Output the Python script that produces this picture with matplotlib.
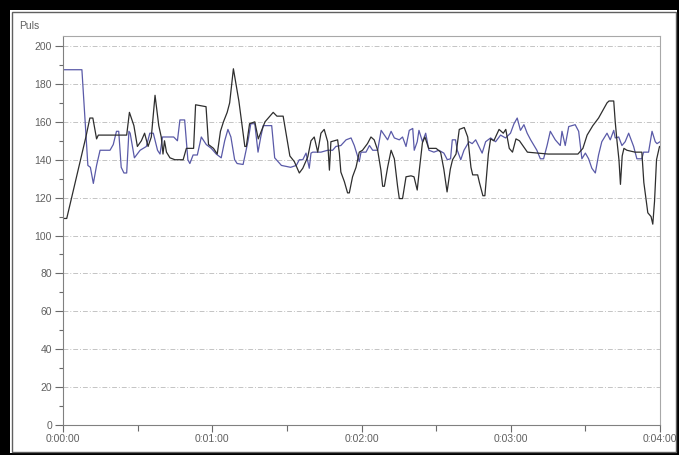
import matplotlib
matplotlib.use('Agg')
import matplotlib.pyplot as plt
from matplotlib.patches import Rectangle
from matplotlib.ticker import MultipleLocator, FuncFormatter

plt.rcParams['font.family'] = ['Liberation Sans', 'DejaVu Sans']

# 시간(초) / 맥박 - 파란 선
blue_t = [0, 7.6, 10, 11, 12.2, 13.5, 14.9, 18.9, 20.2, 21.5,
          22.4, 23.4, 24.5, 25.6, 26.5, 27, 28.7, 31, 33.5, 34.9,
          36.3, 38, 39, 40, 44.5, 46, 47, 48.9, 50.2, 51,
          52.3, 54, 55.6, 57.6, 59.6, 61.6, 63.6, 65, 66.3, 67.5,
          69, 70, 72.4, 74.4, 75.5, 77.1, 78.4, 79.5, 80.5, 83.9,
          85.1, 87.8, 91.5, 93.8, 95, 96.4, 97.7, 99, 99.7, 100.4,
          103.7, 106.4, 108.4, 109.7, 111.7, 113.8, 115.8, 117.1, 118.5, 119.1,
          119.8, 121.8, 123.2, 124.5, 126.5, 127.9, 129.2, 130.5, 131.9, 133.2,
          135.2, 136.5, 137.9, 139.2, 140.6, 141.2, 142.4, 143.1, 144.5, 145.8,
          147.1, 149.1, 151.1, 153.1, 154.5, 155.8, 156.5, 157.8, 158.5, 159.9,
          161.2, 163.2, 164.5, 165.9, 167.2, 168.5, 169.9, 171.9, 173.9, 175.9,
          177.9, 179.9, 181.3, 182.6, 183.9, 185.3, 186.6, 188,
          190.5, 191.9, 193.2, 194.6, 195.9, 197.9, 199.9, 200.6, 201.9, 203.3,
          205.9, 207.3, 208.6, 210, 211.3, 212.6, 214, 215.3, 216.6, 218.7,
          220, 221.4, 222, 223.4, 224.7, 226, 227.4, 229.4, 230.7, 232.7,
          233.4, 235.4, 236.8, 238.1, 238.8, 240]
blue_v = [187.5, 187.5, 137, 136, 127.5, 137, 145, 145, 148, 155,
          155, 136, 133, 133, 155, 154, 141, 145, 147, 154,
          154, 145, 143, 152, 152, 150, 161, 161, 140, 138,
          142.5, 142.5, 152, 148, 146, 143, 141, 150, 156, 152,
          140, 138, 137.5, 150, 159, 159, 144, 152, 158, 158,
          141, 137, 136, 137, 140, 140, 143.5, 135.5, 143.5, 144,
          144, 145, 145, 147, 147.5, 150.5, 151.5, 147.5, 141.5, 139,
          144, 144, 147.5, 145, 145, 155.5, 153, 150.5, 155, 151.5,
          150.5, 152, 147, 155.5, 156.5, 145, 149.5, 155.5, 149.5, 154,
          145, 144, 145, 143.5, 140, 140.5, 150.5, 150.5, 145, 140,
          145, 149.5, 148.5, 150.5, 147, 143.5, 149.5, 151.5, 149.5, 153,
          151.5, 154, 159, 162, 155.5, 158.5, 154, 150.5,
          145, 140.5, 140.5, 147.5, 155, 150.5, 147.5, 155, 147.5, 157.5,
          158.5, 155, 140.5, 143.5, 140.5, 135.5, 133, 142.5, 149.5, 154,
          150.5, 155.5, 151.5, 152, 147.5, 149.5, 154, 147, 140.5, 140.5,
          144, 144, 155, 149.5, 148.5, 149.5]

# 시간(초) / 맥박 - 검은 선
black_t = [0, 1.5, 9.2, 10.8, 12, 13.5, 14.2, 25.6, 26.7, 28.5,
           29.9, 31.5, 32.8, 34.2, 35.5, 37, 38.5, 39.5, 40.2, 40.8,
           41.6, 43, 45, 48.3, 49.6, 52.5, 53.3, 57.5, 58.5, 60.5,
           62, 63.3, 64.5, 66, 67, 68.5, 70.7, 73.1, 73.7, 75, 77.1,
           78.5, 81.2, 84.5, 86, 88.5, 91.2, 93, 95, 96.4, 98.4,
           99.7, 101, 102.4, 103.7, 105, 106.4, 107.1, 107.7, 110.4, 111.1,
           111.7, 113.1, 114.4, 115.1, 116.4, 117.8, 119.1, 120.4, 122.4, 123.8,
           125.1, 126.5, 127.8, 128.5, 129.2, 130.5, 131.9, 133.2, 134.5, 135.2,
           136.5, 137.9, 139.9, 141.1, 142.4, 143.2, 144.5, 145.5, 147, 150,
           151.8, 153.1, 154.4, 155.7, 156.6, 158, 159.3, 161.3, 162.7, 164,
           164.7, 166.7, 167.4, 168.8, 169.6, 170.3, 171, 171.9, 173.2, 175.3,
           177, 178, 179.4, 180.7, 182.1, 183.5, 186.7, 195, 207, 209,
           210.7, 213, 215.3, 217, 218.7, 219.5, 221.4, 222, 222.7, 223.5,
           224.1, 224.8, 225.5, 226.7, 230, 232.7, 233.5, 235.1, 236.4, 237.1,
           237.8, 238.6, 239.8, 240]
black_v = [109, 109, 152, 162, 162, 151, 153, 153, 165, 158,
           147, 150, 154, 147, 152, 174, 158, 152, 143, 150,
           144, 141, 140, 140, 146, 146, 169, 168, 148, 146,
           143, 155, 160, 165, 170, 188, 171, 147, 147, 159, 160,
           151, 160, 165, 163, 163, 142, 139, 133, 135.5, 141.5,
           150, 152, 144, 154, 156, 149.5, 134.5, 149.5, 150.5, 143.5,
           133.5, 128.5, 122.5, 122.5, 131, 136, 144, 145, 148.5, 152,
           150.5, 145, 134.5, 126, 126, 136, 145, 140.5, 126, 119.5,
           119.5, 131, 131.5, 131, 124, 134, 149, 152, 146, 146,
           144, 135, 123, 135, 140, 143, 156, 157, 152, 136,
           132, 132, 128, 121, 121, 132, 143, 151, 150, 156,
           154, 156, 146, 144, 151, 150, 144, 143, 143, 146,
           153, 158, 162, 166, 170, 171, 171, 160, 150, 140,
           127, 142, 146, 145, 144, 144, 128, 112, 110, 106,
           118, 140, 147, 147]

x_ticks = [0, 60, 120, 180, 240]
y_ticks = list(range(0, 201, 20))
y_label = 'Puls'


def hms(s, pos=None):
    s = int(round(s))
    return '%d:%02d:%02d' % (s // 3600, (s // 60) % 60, s % 60)


W, H = 679, 455
fig = plt.figure(figsize=(W / 100, H / 100), dpi=100)
ax = fig.add_axes([63 / W, 1 - 425 / H, 597 / W, 389 / H])

ax.plot(blue_t, blue_v, color='#5a5aa8', lw=0.9)
ax.plot(black_t, black_v, color='#2e2e2e', lw=0.9)

ax.set_xlim(0, 240)
ax.set_ylim(0, 205.3)
ax.set_xticks(x_ticks)
ax.xaxis.set_major_formatter(FuncFormatter(hms))
ax.xaxis.set_minor_locator(MultipleLocator(30))
ax.set_yticks(y_ticks)
ax.yaxis.set_minor_locator(MultipleLocator(10))

# 가로 격자 (점선)
for y in y_ticks[1:]:
    ax.axhline(y, color='#c4c4c4', lw=0.7, ls=(0, (5, 2, 1, 2)), zorder=0)

for side in ['top', 'right']:
    ax.spines[side].set_color('#a8a8a8')
for side in ['left', 'bottom']:
    ax.spines[side].set_color('#808080')
for sp in ax.spines.values():
    sp.set_linewidth(0.8)

ax.tick_params(axis='both', which='both', colors='#6a6a6a', labelcolor='#606060',
               labelsize=7.5, width=0.8)
ax.tick_params(axis='y', which='major', length=6, pad=2)
ax.tick_params(axis='y', which='minor', length=3)
ax.tick_params(axis='x', which='major', length=5, pad=1.5)
ax.tick_params(axis='x', which='minor', length=4)

fig.text(19 / W, 1 - 29 / H, y_label, fontsize=7.5, color='#606060')

# 창 테두리
def px_rect(x0, y0, x1, y1, **kw):
    fig.patches.append(Rectangle((x0 / W, 1 - y1 / H), (x1 - x0) / W, (y1 - y0) / H,
                                 transform=fig.transFigure, **kw))

px_rect(0, 0, W, 10, color='black', lw=0)
px_rect(0, 0, 10, H, color='black', lw=0)
px_rect(W - 2.5, 0, W, H, color='black', lw=0)
px_rect(0, H - 2.5, W, H, color='black', lw=0)
px_rect(11.5, 11.5, W - 3.5, H - 3.5, fill=False, edgecolor='#606060', lw=1)

fig.savefig('out.png', dpi=100)
